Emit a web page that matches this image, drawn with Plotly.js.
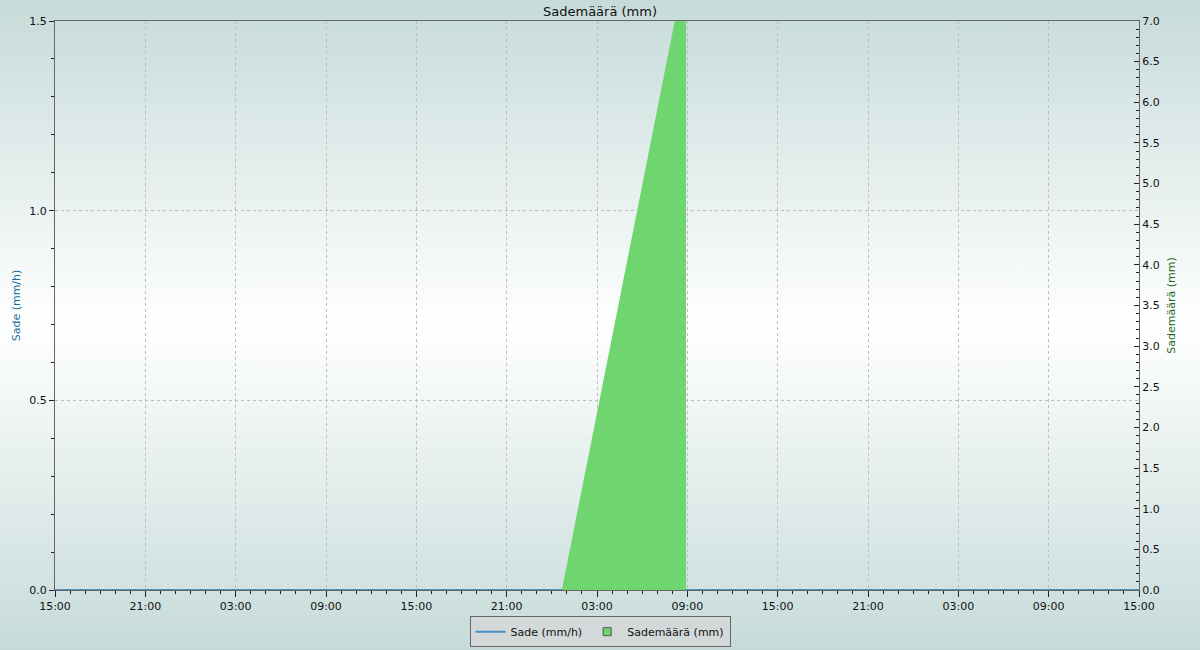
<!DOCTYPE html>
<html><head><meta charset="utf-8">
<script src="https://cdn.plot.ly/plotly-3.0.1.min.js"></script>
<style>
html,body{margin:0;padding:0;}
body{width:1200px;height:650px;background:linear-gradient(to bottom,#c6dbd9 0%,#ffffff 50%,#c6dbd9 100%);}
#chart{width:1200px;height:650px;}
</style></head>
<body><div id="chart"></div>
<script>
// Sade (mm/h) – rain intensity
const rateTimes = ['2023-06-10 15:00','2023-06-11 15:00','2023-06-12 15:00','2023-06-13 15:00'];
const rateValues = [0, 0, 0, 0];
// Sademäärä (mm) – accumulated rainfall
const sumTimes = ['2023-06-12 00:40','2023-06-12 08:08','2023-06-12 08:55'];
const sumValues = [0, 7.0, 7.7];
const titleText = 'Sademäärä (mm)';
const leftTitle = 'Sade (mm/h)';
const rightTitle = 'Sademäärä (mm)';

const ff = 'DejaVu Sans, sans-serif';
const traces = [
  {x:sumTimes, y:sumValues, name:'Sademäärä (mm)', type:'scatter', mode:'lines', yaxis:'y2',
   fill:'tozeroy', fillcolor:'#6fd56f', line:{color:'#6fd56f', width:0}, showlegend:false},
  {x:rateTimes, y:rateValues, name:'Sade (mm/h)', type:'scatter', mode:'lines',
   line:{color:'#4a8fc4', width:2}, legendrank:1},
  {x:[null], y:[null], name:'Sademäärä (mm)', type:'scatter', mode:'markers', yaxis:'y2',
   marker:{symbol:'square', size:8, color:'#6fd56f', line:{color:'#555', width:1}}, legendrank:2}
];
const layout = {
  width:1200, height:650,
  paper_bgcolor:'rgba(0,0,0,0)', plot_bgcolor:'rgba(0,0,0,0)',
  margin:{l:55, r:61, t:21, b:60},
  font:{family:ff, size:11, color:'#111'},
  title:{text:titleText, x:0.5, xanchor:'center', y:0.983, yanchor:'middle', font:{family:ff, size:13, color:'#111'}},
  showlegend:true,
  legend:{orientation:'h', x:0.5, xanchor:'center', xref:'container', yref:'container', y:0.052, yanchor:'top',
    bgcolor:'#d3d8d8', bordercolor:'#666', borderwidth:1, itemwidth:30, tracegroupgap:0, font:{family:ff, size:11, color:'#111'}},
  xaxis:{type:'date', range:['2023-06-10 15:00','2023-06-13 15:00'], tick0:'2023-06-10 15:00', dtick:21600000,
    tickformat:'%H:%M', ticks:'outside', ticklen:6, tickcolor:'#222', showline:true, linecolor:'#666', mirror:true,
    showgrid:true, gridcolor:'#bdbdbd', griddash:'3px,3px', gridwidth:1, zeroline:false,
    minor:{dtick:3600000, ticks:'outside', ticklen:3, tickcolor:'#222', showgrid:false}},
  yaxis:{range:[0,1.5], dtick:0.5, tickformat:'.1f', ticks:'outside', ticklen:5, tickcolor:'#222', showline:true, linecolor:'#666',
    showgrid:true, gridcolor:'#bdbdbd', griddash:'3px,3px', zeroline:false,
    minor:{dtick:0.1, ticks:'outside', ticklen:3, tickcolor:'#222', showgrid:false},
    title:{text:leftTitle, font:{family:ff, size:11, color:'#1a6a9a'}, standoff:6}},
  yaxis2:{range:[0,7], dtick:0.5, tickformat:'.1f', overlaying:'y', side:'right', ticks:'inside', ticklen:5, tickcolor:'#222',
    showline:true, linecolor:'#666', showgrid:false, zeroline:false,
    minor:{dtick:0.1, ticks:'inside', ticklen:3, tickcolor:'#222', showgrid:false},
    title:{text:rightTitle, font:{family:ff, size:11, color:'#1a6a1a'}, standoff:8}}
};
Plotly.newPlot('chart', traces, layout, {displayModeBar:false, staticPlot:true});
</script></body></html>
